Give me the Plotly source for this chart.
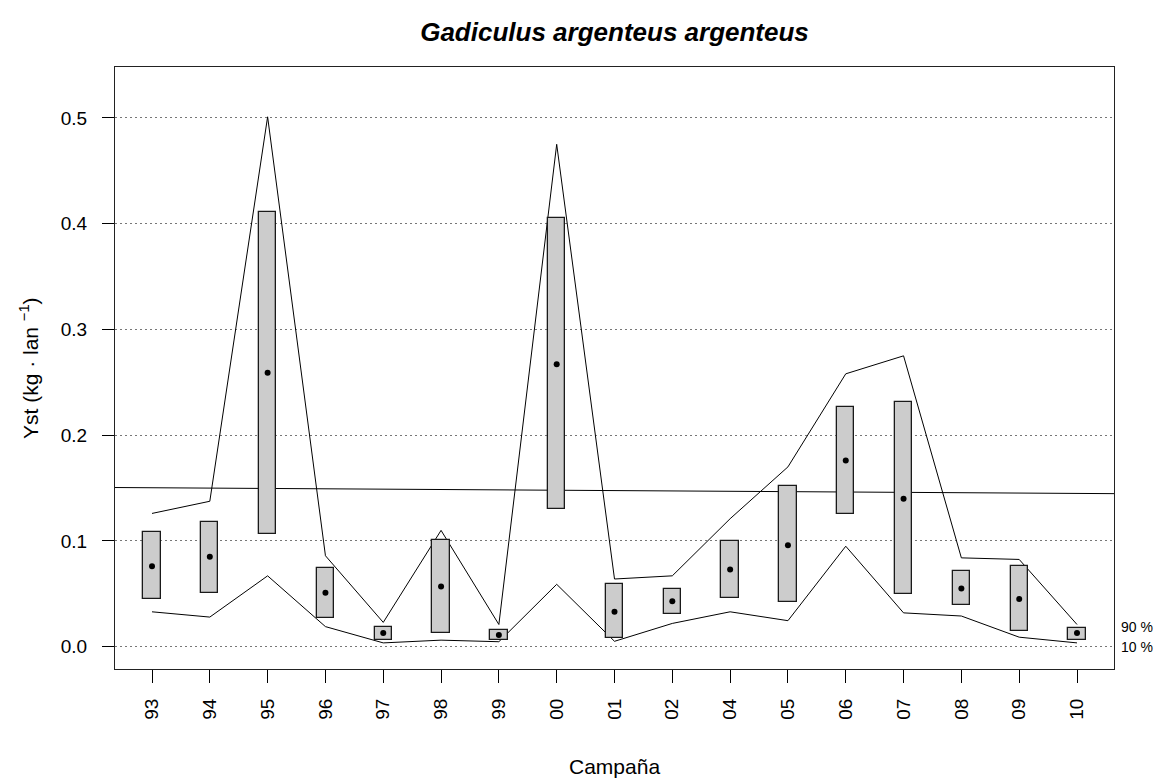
import plotly.graph_objects as go

campaigns = ["93", "94", "95", "96", "97", "98", "99", "00", "01", "02",
             "04", "05", "06", "07", "08", "09", "10"]
box_low = [0.045, 0.051, 0.107, 0.027, 0.0065, 0.013, 0.0062, 0.130, 0.0087, 0.031,
           0.046, 0.042, 0.125, 0.050, 0.039, 0.015, 0.0062]
box_high = [0.108, 0.118, 0.411, 0.074, 0.019, 0.101, 0.016, 0.405, 0.059, 0.055,
            0.100, 0.152, 0.227, 0.231, 0.072, 0.076, 0.018]
means = [0.076, 0.085, 0.259, 0.051, 0.013, 0.057, 0.011, 0.267, 0.033, 0.043,
         0.073, 0.096, 0.176, 0.140, 0.055, 0.045, 0.013]
p90 = [0.126, 0.1375, 0.501, 0.086, 0.023, 0.110, 0.021, 0.475, 0.064, 0.067,
       0.121, 0.170, 0.258, 0.275, 0.084, 0.0825, 0.021]
p10 = [0.033, 0.028, 0.067, 0.019, 0.0036, 0.0062, 0.0047, 0.059, 0.0051, 0.022,
       0.033, 0.0246, 0.095, 0.032, 0.029, 0.009, 0.0036]
trend_ends = [0.1505, 0.1447]
y_ticks = [0.0, 0.1, 0.2, 0.3, 0.4, 0.5]

n = len(campaigns)
pos = list(range(1, n + 1))
x_range = [1 - 0.04 * (n - 1), n + 0.04 * (n - 1)]
y_top = 0.527
y_range = [-0.04 * y_top, y_top * 1.04]

FONT = "Liberation Sans, Arial, Helvetica, sans-serif"

W, H = 1158, 779
ML, MR, MT, MB = 115, 44, 67, 110

fig = go.Figure()

# percentile lines and trend line (beneath boxes)
fig.add_trace(go.Scatter(x=pos, y=p90, mode="lines", line=dict(color="black", width=1),
                         showlegend=False, hoverinfo="skip"))
fig.add_trace(go.Scatter(x=pos, y=p10, mode="lines", line=dict(color="black", width=1),
                         showlegend=False, hoverinfo="skip"))
fig.add_trace(go.Scatter(x=x_range, y=trend_ends, mode="lines",
                         line=dict(color="black", width=1), showlegend=False,
                         hoverinfo="skip"))

# boxes on an overlay axis so they sit on top of the lines
fig.add_trace(go.Bar(x=pos, y=[h - l for h, l in zip(box_high, box_low)], base=box_low,
                     width=0.3,
                     marker=dict(color="#CCCCCC", line=dict(color="#1a1a1a", width=1.3)),
                     yaxis="y2", showlegend=False))
fig.add_trace(go.Scatter(x=pos, y=means, mode="markers", yaxis="y2",
                         marker=dict(color="black", size=6, symbol="circle"),
                         showlegend=False))

fig.add_annotation(x=1, y=p90[-1], xref="paper", yref="y", text="90 %", showarrow=False,
                   xanchor="left", yanchor="middle", xshift=5, yshift=-3,
                   font=dict(family=FONT, size=14, color="black"))
fig.add_annotation(x=1, y=p10[-1], xref="paper", yref="y", text="10 %", showarrow=False,
                   xanchor="left", yanchor="middle", xshift=5, yshift=-4,
                   font=dict(family=FONT, size=14, color="black"))

# axis titles
fig.add_annotation(x=0.5, y=0, xref="paper", yref="paper", text="Campaña",
                   showarrow=False, xanchor="center", yanchor="middle", yshift=-97,
                   font=dict(family=FONT, size=21, color="black"))
fig.add_annotation(x=0, y=0.5, xref="paper", yref="paper",
                   text="Yst (kg · lan <sup>−1</sup>)", textangle=-90,
                   showarrow=False, xanchor="center", yanchor="middle", xshift=-86,
                   font=dict(family=FONT, size=21, color="black"))

fig.update_layout(
    width=W, height=H,
    margin=dict(l=ML, r=MR, t=MT, b=MB),
    paper_bgcolor="white", plot_bgcolor="white",
    bargap=0,
    title=dict(text="<b><i>Gadiculus argenteus argenteus</i></b>",
               xref="paper", x=0.5, xanchor="center",
               yref="container", y=1 - 32 / H, yanchor="middle",
               font=dict(family=FONT, size=26, color="black")),
    xaxis=dict(range=x_range, tickmode="array", tickvals=pos, ticktext=campaigns,
               tickangle=-90, ticks="outside", ticklen=13, tickcolor="black",
               ticklabelstandoff=8,
               showline=True, linecolor="#222222", linewidth=1, mirror=True,
               showgrid=False, zeroline=False,
               tickfont=dict(family=FONT, size=19, color="black")),
    yaxis=dict(range=y_range, tickmode="array", tickvals=y_ticks,
               ticktext=[f"{v:.1f}" for v in y_ticks],
               ticks="outside", ticklen=12, tickcolor="black",
               ticklabelstandoff=11,
               showline=True, linecolor="#222222", linewidth=1, mirror=True,
               showgrid=True, gridcolor="#777777", griddash="2px,3px", gridwidth=1,
               zeroline=False,
               tickfont=dict(family=FONT, size=19, color="black")),
    yaxis2=dict(range=y_range, overlaying="y", visible=False, showgrid=False),
)

fig.write_html("out.html", config={"displayModeBar": False},
               post_script="document.body.style.margin='0';document.body.style.overflow='hidden';")
